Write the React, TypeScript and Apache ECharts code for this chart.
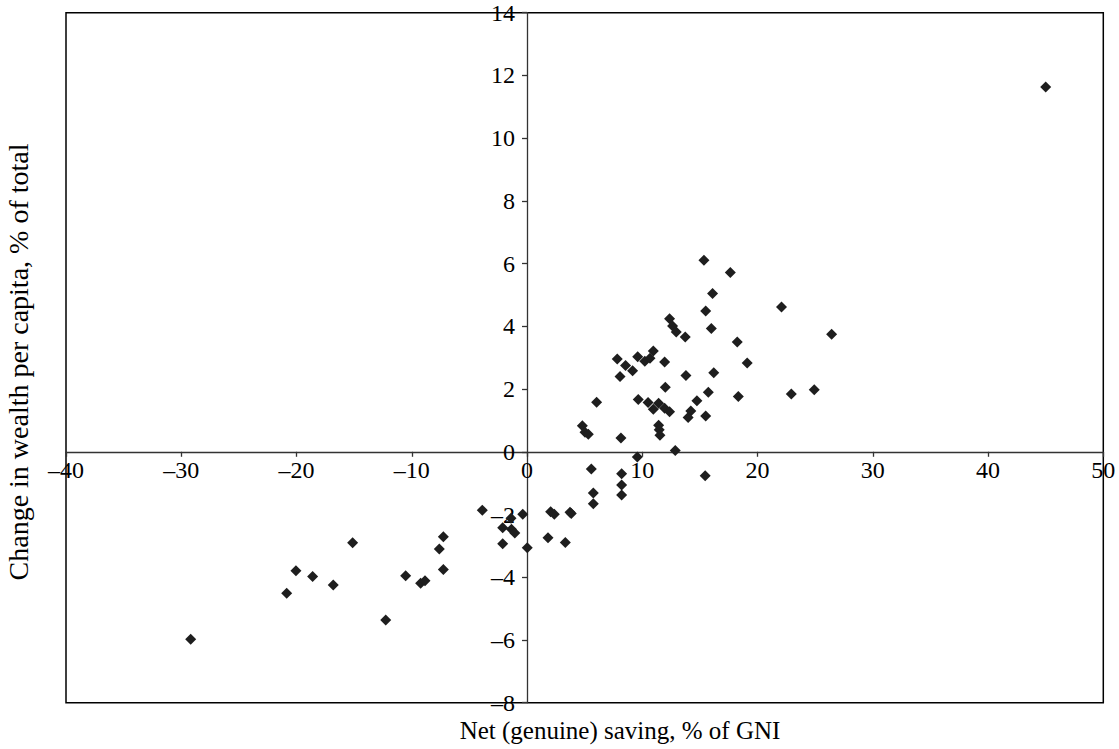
import React, { useEffect, useRef } from "react";
import * as echarts from "echarts";

const xTicks = { min: -40, max: 50, interval: 10 };
const yTicks = { min: -8, max: 14, interval: 2 };

const netSaving: number[] = [
  15.35, 17.64, 16.1, 22.08, 15.5, 12.37, 12.63, 12.95, 13.73, 15.99,
  26.43, 18.24, 10.96, 7.83, 9.6, 10.22, 10.67, 11.94, 19.1, 8.55,
  9.16, 8.07, 13.79, 16.2, 12.0, 15.73, 18.33, 22.93, 24.92, 6.04,
  9.65, 10.5, 11.42, 14.74, 10.96, 11.94, 12.37, 14.21, 13.98, 15.5,
  4.8, 5.03, 5.32, 8.15, 11.42, 11.47, 11.53, 12.86, 9.57, 5.58,
  8.21, 15.46, 8.21, 8.21, 5.75, 5.75, 3.73,
  -3.88, -1.39, -0.37, -2.11, -1.35, -1.06, -2.11, 0.02, 2.05, 2.37,
  3.84, 1.82, 3.32,
  -7.26, -7.61, -7.26, -15.13, -20.05, -18.6, -16.81, -20.85, -10.53, -9.23,
  -8.85, -12.26, -29.18,
  45.0,
];

const wealthChange: number[] = [
  6.11, 5.72, 5.05, 4.62, 4.49, 4.24, 4.01, 3.82, 3.66, 3.93,
  3.75, 3.5, 3.21, 2.96, 3.03, 2.89, 2.98, 2.86, 2.83, 2.75,
  2.58, 2.4, 2.43, 2.52, 2.06, 1.9, 1.76, 1.84, 1.98, 1.58,
  1.67, 1.57, 1.55, 1.63, 1.36, 1.39, 1.28, 1.3, 1.09, 1.14,
  0.83, 0.62, 0.56, 0.44, 0.85, 0.7, 0.53, 0.04, -0.17, -0.55,
  -0.7, -0.76, -1.06, -1.38, -1.31, -1.66, -1.93,
  -1.86, -2.12, -1.99, -2.42, -2.47, -2.59, -2.93, -3.06, -1.91, -1.99,
  -1.97, -2.74, -2.89,
  -2.71, -3.1, -3.75, -2.9, -3.79, -3.98, -4.25, -4.51, -3.95, -4.19,
  -4.11, -5.36, -5.98,
  11.63,
];

const xTitle = "Net (genuine) saving, % of GNI";
const yTitle = "Change in wealth per capita, % of total";

const FONT = "'Liberation Serif', 'Times New Roman', serif";

const GRID = { left: 66, top: 12.7, right: 15.7, bottom: 46.3, width: 1037.3, height: 690 };

const fmt = (v: number) => (v < 0 ? "\u2013" + Math.abs(v) : String(v));

export default function App() {
  const ref = useRef<HTMLDivElement>(null);
  useEffect(() => {
    if (!ref.current) return;
    const chart = echarts.init(ref.current, undefined, { renderer: "svg" });
    const points = netSaving.map((x, i) => [x, wealthChange[i]]);
    // distance from grid edges to the zero lines, so axes sit on zero
    const xZeroFromLeft = ((0 - xTicks.min) / (xTicks.max - xTicks.min)) * GRID.width;
    const yZeroFromBottom = ((0 - yTicks.min) / (yTicks.max - yTicks.min)) * GRID.height;
    chart.setOption({
      animation: false,
      backgroundColor: "#ffffff",
      grid: {
        left: GRID.left,
        top: GRID.top,
        right: GRID.right,
        bottom: GRID.bottom,
        show: true,
        borderColor: "#000000",
        borderWidth: 1.5,
        backgroundColor: "transparent",
      },
      xAxis: {
        type: "value",
        position: "bottom",
        offset: -yZeroFromBottom,
        min: xTicks.min,
        max: xTicks.max,
        interval: xTicks.interval,
        splitLine: { show: false },
        axisLine: { show: true, onZero: false, lineStyle: { color: "#333", width: 1.3 } },
        axisTick: { show: true, length: 5, lineStyle: { color: "#333", width: 1.3 } },
        axisLabel: {
          margin: 6,
          fontFamily: FONT,
          fontSize: 24,
          color: "#000",
          formatter: fmt,
          showMinLabel: true,
          showMaxLabel: true,
        },
      },
      yAxis: {
        type: "value",
        position: "left",
        offset: -xZeroFromLeft,
        min: yTicks.min,
        max: yTicks.max,
        interval: yTicks.interval,
        splitLine: { show: false },
        axisLine: { show: true, onZero: false, lineStyle: { color: "#333", width: 1.3 } },
        axisTick: { show: true, length: 5, lineStyle: { color: "#333", width: 1.3 } },
        axisLabel: {
          margin: 12,
          fontFamily: FONT,
          fontSize: 24,
          color: "#000",
          formatter: fmt,
          showMinLabel: true,
          showMaxLabel: true,
        },
      },
      series: [
        {
          type: "scatter",
          data: points,
          symbol: "diamond",
          symbolSize: 11,
          itemStyle: { color: "#1e1e1e", opacity: 1 },
        },
      ],
      graphic: [
        {
          type: "text",
          x: 620,
          y: 730,
          style: {
            text: xTitle,
            fontFamily: FONT,
            fontSize: 25,
            fill: "#000",
            textAlign: "center",
            textVerticalAlign: "middle",
          },
        },
        {
          type: "text",
          x: 18,
          y: 362,
          rotation: Math.PI / 2,
          style: {
            text: yTitle,
            fontFamily: FONT,
            fontSize: 28,
            fill: "#000",
            textAlign: "center",
            textVerticalAlign: "middle",
          },
        },
      ],
    });
    return () => chart.dispose();
  }, []);
  return (
    <div
      ref={ref}
      style={{ position: "absolute", left: 0, top: 0, width: 1119, height: 749, background: "#fff" }}
    />
  );
}
